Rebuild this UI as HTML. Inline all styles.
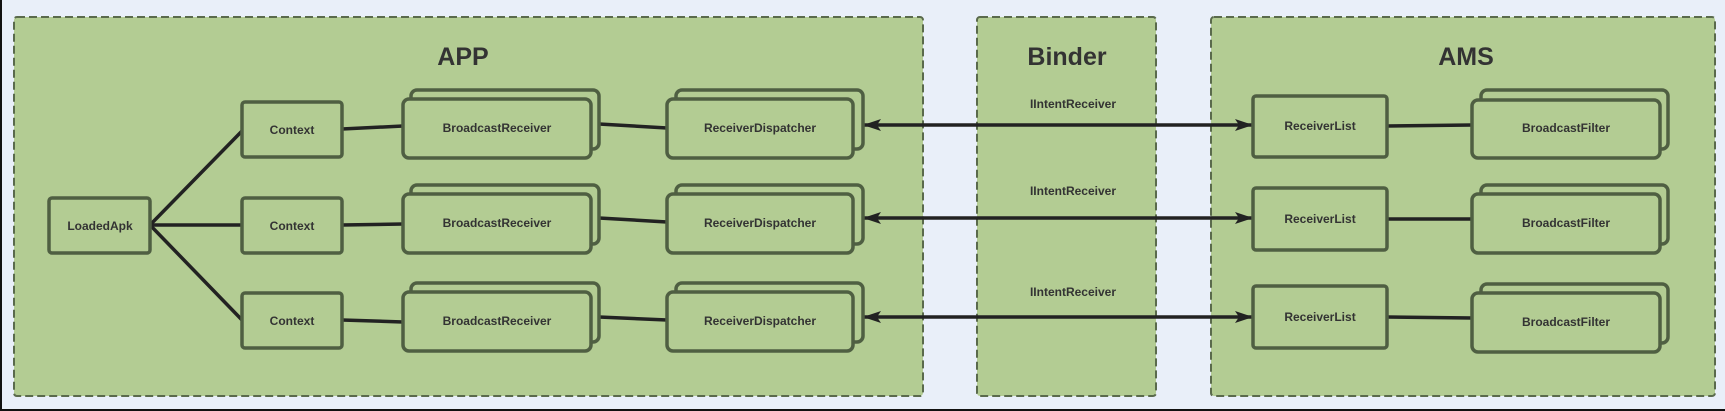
<!DOCTYPE html>
<html><head><meta charset="utf-8"><style>
html,body{margin:0;padding:0;background:#e9eff9;}
svg{display:block;}
text{font-family:"Liberation Sans",sans-serif;font-weight:bold;fill:#333;}
</style></head><body>
<svg width="1725" height="411" viewBox="0 0 1725 411" xmlns="http://www.w3.org/2000/svg">
<rect x="0" y="0" width="1725" height="411" fill="#e9eff9"/>
<line x1="1" y1="0" x2="1" y2="411" stroke="#111" stroke-width="2"/>
<line x1="0" y1="410" x2="1725" y2="410" stroke="#111" stroke-width="2"/>
<defs>
<marker id="ah" viewBox="0 0 18 12" refX="17" refY="6" markerWidth="18" markerHeight="12" markerUnits="userSpaceOnUse" orient="auto-start-reverse"><path d="M0,0 L18,6 L0,12 L4,6 Z" fill="#222"/></marker>
</defs>
<g fill="#b3cc93" stroke="#5a6a4c" stroke-width="2" stroke-dasharray="8,4">
<rect x="14" y="17" width="909" height="379" rx="3"/>
<rect x="977" y="17" width="179" height="379" rx="3"/>
<rect x="1211" y="17" width="504" height="379" rx="3"/>
</g>
<text x="463" y="65" font-size="25" text-anchor="middle" fill="#2a2a2a">APP</text>
<text x="1067" y="65" font-size="25" text-anchor="middle" fill="#2a2a2a">Binder</text>
<text x="1466" y="65" font-size="25" text-anchor="middle" fill="#2a2a2a">AMS</text>
<g stroke="#222" stroke-width="3.5" fill="none">
<line x1="150" y1="225" x2="242" y2="131"/>
<line x1="150" y1="225" x2="242" y2="225"/>
<line x1="150" y1="225" x2="242" y2="320"/>
<line x1="342" y1="129" x2="403" y2="126"/>
<line x1="342" y1="225" x2="403" y2="224"/>
<line x1="342" y1="320" x2="403" y2="322"/>
<line x1="599" y1="124" x2="667" y2="128"/>
<line x1="599" y1="218" x2="667" y2="222"/>
<line x1="599" y1="317" x2="667" y2="320"/>
<line x1="1387" y1="126" x2="1472" y2="125"/>
<line x1="1387" y1="219" x2="1472" y2="219"/>
<line x1="1387" y1="317" x2="1472" y2="318"/>
<line x1="864" y1="125" x2="1252" y2="125" marker-start="url(#ah)" marker-end="url(#ah)"/>
<line x1="864" y1="218" x2="1252" y2="218" marker-start="url(#ah)" marker-end="url(#ah)"/>
<line x1="864" y1="317" x2="1252" y2="317" marker-start="url(#ah)" marker-end="url(#ah)"/>
</g>
<g fill="#b3cc93" stroke="#4f5f42" stroke-width="3.5">
<rect x="49" y="198" width="101" height="55" rx="3"/>
<rect x="242" y="102" width="100" height="55" rx="3"/>
<rect x="242" y="198" width="100" height="55" rx="3"/>
<rect x="242" y="293" width="100" height="55" rx="3"/>
<rect x="1253" y="96" width="134" height="61" rx="3"/>
<rect x="1253" y="188" width="134" height="62" rx="3"/>
<rect x="1253" y="286" width="134" height="62" rx="3"/>
<!-- stacked -->
<rect x="411" y="90" width="188" height="59" rx="6"/><rect x="403" y="99" width="188" height="59" rx="6"/>
<rect x="411" y="185" width="188" height="59" rx="6"/><rect x="403" y="194" width="188" height="59" rx="6"/>
<rect x="411" y="283" width="188" height="59" rx="6"/><rect x="403" y="292" width="188" height="59" rx="6"/>
<rect x="676" y="90" width="187" height="59" rx="6"/><rect x="667" y="99" width="186" height="59" rx="6"/>
<rect x="676" y="185" width="187" height="59" rx="6"/><rect x="667" y="194" width="186" height="59" rx="6"/>
<rect x="676" y="283" width="187" height="59" rx="6"/><rect x="667" y="292" width="186" height="59" rx="6"/>
<rect x="1481" y="90" width="187" height="59" rx="6"/><rect x="1472" y="100" width="188" height="58" rx="6"/>
<rect x="1481" y="185" width="187" height="59" rx="6"/><rect x="1472" y="194" width="188" height="59" rx="6"/>
<rect x="1481" y="284" width="187" height="59" rx="6"/><rect x="1472" y="293" width="188" height="59" rx="6"/>
</g>
<g font-size="12" text-anchor="middle">
<text x="100" y="230">LoadedApk</text>
<text x="292" y="134">Context</text>
<text x="292" y="230">Context</text>
<text x="292" y="325">Context</text>
<text x="497" y="132">BroadcastReceiver</text>
<text x="497" y="227">BroadcastReceiver</text>
<text x="497" y="325">BroadcastReceiver</text>
<text x="760" y="132">ReceiverDispatcher</text>
<text x="760" y="227">ReceiverDispatcher</text>
<text x="760" y="325">ReceiverDispatcher</text>
<text x="1320" y="130">ReceiverList</text>
<text x="1320" y="223">ReceiverList</text>
<text x="1320" y="321">ReceiverList</text>
<text x="1566" y="132">BroadcastFilter</text>
<text x="1566" y="227">BroadcastFilter</text>
<text x="1566" y="326">BroadcastFilter</text>
<text x="1073" y="108">IIntentReceiver</text>
<text x="1073" y="195">IIntentReceiver</text>
<text x="1073" y="296">IIntentReceiver</text>
</g>
</svg>
</body></html>
